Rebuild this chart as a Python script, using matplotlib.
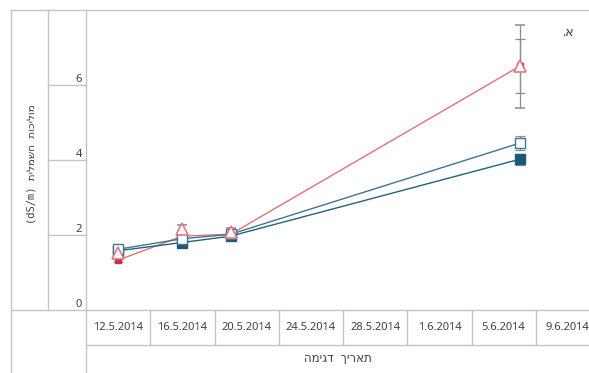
import numpy as np
import pandas as pd
import matplotlib
matplotlib.use("Agg")
import matplotlib.pyplot as plt
import matplotlib.dates as mdates
from matplotlib.lines import Line2D
from matplotlib.transforms import blended_transform_factory

plt.rcParams['font.family'] = ['Noto Sans', 'DejaVu Sans']

# sampling dates
dates = pd.to_datetime(["2014-05-12", "2014-05-16", "2014-05-19", "2014-06-06"])
tick_dates = pd.to_datetime(["2014-05-12", "2014-05-16", "2014-05-20", "2014-05-24",
                             "2014-05-28", "2014-06-01", "2014-06-05", "2014-06-09"])
tick_labels = ["12.5.2014", "16.5.2014", "20.5.2014", "24.5.2014",
               "28.5.2014", "1.6.2014", "5.6.2014", "9.6.2014"]

# conductivity values (dS/m) and errors
tri_red = [1.52, 2.15, 2.08, 6.50]
tri_red_err = [0.10, 0.12, 0.12, 1.10]
sq_red = [1.33, 1.97, 2.02, 6.50]
sq_red_err = [0.05, 0.08, 0.08, 0.72]
sq_open = [1.62, 1.90, 2.02, 4.45]
sq_open_err = [0.08, 0.08, 0.08, 0.18]
sq_fill = [1.58, 1.80, 1.97, 4.02]
sq_fill_err = [0.08, 0.08, 0.08, 0.15]

yticks = [0, 2, 4, 6]

W, H = 589, 373
fig = plt.figure(figsize=(W / 100, H / 100), dpi=100)

def fx(px):
    return px / W

def fy(py):
    return 1 - py / H

left, right, top, bottom = 86, 600, 10, 310
ax = fig.add_axes([fx(left), fy(bottom), (right - left) / W, (bottom - top) / H])

x = mdates.date2num(dates)
xt = mdates.date2num(tick_dates)
ax.set_xlim(xt[0] - 2, xt[-1] + 2)
ax.set_ylim(0, 8)

red = "#e0707a"
red_dark = "#c8303c"
blue = "#3f7592"
teal = "#1f6478"
err_c = "#8c8c8c"

kw = dict(ecolor=err_c, elinewidth=0.9, capsize=3.5, capthick=0.9)
ax.errorbar(x, sq_red, yerr=sq_red_err, color=red, lw=1, marker="s", ms=4.5,
            mfc=red_dark, mec=red_dark, **kw)
ax.errorbar(x, sq_fill, yerr=sq_fill_err, color=teal, lw=1, marker="s", ms=6.5,
            mfc="#1a5876", mec="#1a5876", **kw)
ax.errorbar(x, sq_open, yerr=sq_open_err, color=blue, lw=1, marker="s", ms=7,
            mfc="white", mec=blue, **kw)
ax.errorbar(x, tri_red, yerr=tri_red_err, color=red, lw=0, marker="^", ms=9,
            mfc="white", mec=red, mew=1.1, **kw)

for s in ax.spines.values():
    s.set_visible(False)
ax.set_xticks([])
ax.set_yticks([])

grid = "#c4c4c4"
lw = 1.0

def fline(x0, y0, x1, y1):
    fig.add_artist(Line2D([fx(x0), fx(x1)], [fy(y0), fy(y1)], color=grid, lw=lw,
                          transform=fig.transFigure))

# table frame
fline(11, 10, 589, 10)
fline(11, 10, 11, 373)
fline(48, 10, 48, 310)
fline(86, 10, 86, 373)
fline(11, 310, 589, 310)
fline(86, 345, 589, 345)

# y tick cells
ty = blended_transform_factory(fig.transFigure, ax.transData)
for v in yticks:
    if v > 0:
        fig.add_artist(Line2D([fx(48), fx(86)], [v, v], color=grid, lw=lw, transform=ty))
    fig.text(fx(82), v, str(v), transform=ty, ha="right", va="bottom",
             fontsize=8, color="#404040")

# date cells
tx = blended_transform_factory(ax.transData, fig.transFigure)
for d, lab in zip(xt, tick_labels):
    fig.add_artist(Line2D([d + 2, d + 2], [fy(310), fy(345)], color=grid, lw=lw,
                          transform=tx))
    fig.text(d, fy(327.5), lab, transform=tx, ha="center", va="center",
             fontsize=8, color="#404040")

# axis titles (visual order for RTL text)
mono = ['DejaVu Sans Mono', 'DejaVu Sans']
fig.text(fx(338), fy(359), "המיגד ךיראת", ha="center", va="center",
         fontsize=8.5, color="#404040", family=mono)
fig.text(fx(31), fy(164), "(dS/m) תילמשח תוכילומ", ha="center", va="center",
         rotation=90, fontsize=7.5, color="#404040", family=mono)
fig.text(fx(568), fy(33), ".א", ha="center", va="center", fontsize=9, color="#404040")

fig.savefig("out.png", dpi=100)
